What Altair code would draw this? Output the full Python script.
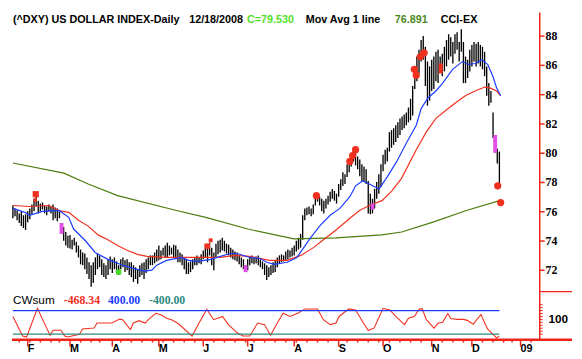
import altair as alt
import pandas as pd

# ---------------- data ----------------
HIGH = [
    76.43, 76.23, 76.09, 75.89, 76.03, 75.76, 75.83, 76.03, 76.23, 76.49,
    76.89, 77.16, 76.76, 76.56, 76.63, 76.43, 76.36, 76.49, 76.36, 76.49,
    76.29, 76.23, 76.03, 75.23, 74.96, 74.62, 74.36, 74.42, 74.09, 74.22,
    73.95, 73.69, 73.42, 73.22, 73.15, 72.88, 72.55, 72.35, 72.55, 72.88,
    73.15, 73.02, 72.75, 72.48, 72.35, 72.75, 72.95, 72.75, 72.88, 72.61,
    72.35, 72.75, 72.88, 72.68, 72.75, 72.55, 72.55, 72.35, 72.21, 72.08,
    72.35, 72.48, 72.55, 72.75, 72.88, 73.02, 73.02, 73.22, 73.42, 73.69,
    73.35, 73.55, 73.69, 73.89, 73.69, 73.55, 73.75, 73.69, 73.42, 73.22,
    73.09, 72.88, 72.75, 72.55, 72.61, 72.75, 72.88, 73.02, 72.88, 73.09,
    73.35, 73.75, 73.55, 73.89, 73.55, 73.22, 73.82, 74.02, 74.09, 74.22,
    74.02, 73.82, 73.75, 73.55, 73.42, 73.29, 73.22, 73.02, 72.88, 72.75,
    72.35, 72.75, 72.88, 73.02, 72.88, 72.95, 73.02, 72.75, 72.61, 72.48,
    72.35, 72.21, 72.35, 72.55, 72.68, 72.88, 73.02, 73.09, 73.02, 73.29,
    73.42, 73.35, 73.55, 73.69, 74.02, 74.22, 74.49, 75.76, 76.23, 76.29,
    76.36, 76.23, 76.49, 77.16, 77.23, 77.03, 76.89, 76.76, 76.89, 77.09,
    77.36, 77.56, 77.43, 77.23, 77.90, 78.23, 78.70, 78.57, 79.24, 79.57,
    79.90, 80.24, 80.04, 79.77, 79.57, 79.24, 79.10, 78.90, 78.10, 77.23,
    76.89, 77.56, 78.03, 78.57, 79.24, 79.90, 80.24, 80.37, 81.44, 81.58,
    81.71, 81.91, 82.11, 82.38, 82.51, 82.65, 82.78, 83.12, 83.72, 84.59,
    85.46, 86.60, 87.06, 87.73, 88.00, 87.27, 86.26, 85.93, 86.39, 86.60,
    86.93, 87.06, 86.60, 86.80, 87.27, 87.73, 88.13, 87.93, 87.60, 88.13,
    88.27, 87.60, 88.47, 87.60, 86.60, 86.39, 87.06, 87.40, 87.60, 87.47,
    87.60, 87.40, 87.27, 86.93, 85.93, 84.79, 84.25, 82.78, 81.24, 80.30,
    80.11,
]
LOW = [
    75.56, 75.69, 75.42, 75.23, 75.02, 74.89, 74.76, 75.29, 75.49, 75.83,
    76.03, 76.36, 75.89, 76.03, 76.16, 75.89, 75.76, 76.03, 75.89, 75.42,
    75.56, 75.36, 75.56, 74.49, 74.02, 73.69, 73.55, 73.49, 73.42, 73.69,
    73.22, 72.88, 72.41, 72.35, 72.08, 71.75, 71.41, 70.88, 71.14, 71.68,
    72.08, 72.21, 71.68, 71.54, 71.41, 71.68, 72.08, 71.81, 72.08, 71.81,
    71.68, 72.08, 72.21, 71.88, 72.01, 71.68, 71.54, 71.21, 71.41, 71.08,
    71.54, 71.68, 71.41, 71.81, 72.08, 72.35, 72.35, 72.48, 72.61, 72.68,
    72.75, 73.02, 72.88, 72.88, 73.02, 73.09, 72.88, 72.75, 72.55, 72.55,
    72.35, 72.08, 71.75, 71.75, 71.88, 72.08, 72.35, 72.35, 72.48, 72.41,
    72.75, 72.88, 72.55, 73.02, 72.35, 72.01, 72.88, 73.09, 73.22, 73.35,
    73.29, 73.15, 73.02, 72.88, 72.75, 72.68, 72.61, 72.41, 72.21, 72.08,
    71.88, 72.01, 72.35, 72.48, 72.41, 72.48, 72.35, 72.21, 72.08, 71.68,
    71.34, 71.54, 71.68, 71.81, 71.88, 72.21, 72.48, 72.55, 72.61, 72.68,
    72.75, 72.88, 72.95, 73.02, 73.29, 73.42, 73.55, 74.09, 75.42, 75.76,
    75.83, 75.69, 75.83, 76.43, 76.69, 76.43, 76.03, 75.89, 76.23, 76.49,
    76.69, 76.89, 76.76, 76.56, 77.03, 77.49, 77.76, 77.90, 78.37, 78.70,
    79.10, 79.44, 79.17, 78.90, 78.43, 78.10, 78.03, 77.90, 75.89, 75.83,
    75.89, 76.23, 76.89, 77.23, 77.70, 78.77, 79.24, 79.44, 80.11, 80.37,
    80.57, 80.77, 81.04, 81.24, 81.58, 81.71, 81.91, 82.11, 82.25, 82.58,
    84.39, 84.92, 85.46, 86.26, 86.39, 84.59, 83.25, 83.59, 84.25, 84.39,
    84.92, 84.79, 85.46, 85.26, 85.59, 85.93, 86.39, 86.60, 86.13, 86.80,
    87.06, 86.26, 86.93, 84.79, 84.79, 85.13, 85.59, 85.93, 86.26, 85.93,
    86.13, 85.93, 85.73, 85.26, 83.92, 83.25, 83.45, 81.04, 80.04, 79.30,
    77.70,
]

BLUE_I = [0, 5.6, 7.9, 13.9, 21.8, 26.4, 28.7, 34.3, 38.9, 44.9, 51.9, 56.5, 62, 65.7, 68,
          72.7, 79.6, 83.3, 87.5, 93.5, 98.1, 102.8, 106, 112, 116.7, 120, 123.6, 129.6,
          134.3, 137.5, 140.7, 145.4, 150, 154.6, 159.3, 162, 165.3, 168.5, 173.1, 176.9,
          181.5, 186.1, 190.7, 193, 196.3, 200, 203.2, 207.9, 212.5, 215.3, 218.5, 221.8,
          224.5, 226.9, 228.7, 230.6]
BLUE_V = [76.23, 75.96, 75.76, 76.03, 76.09, 75.62, 74.82, 74.02, 73.22, 72.75, 72.35, 72.15,
          71.95, 72.01, 72.35, 72.68, 72.88, 72.68, 72.61, 72.75, 72.95, 73.15, 73.15, 72.88,
          72.82, 72.55, 72.41, 72.55, 72.88, 73.55, 74.22, 75.09, 75.76, 76.23, 77.03, 77.77,
          78.10, 77.90, 77.56, 78.37, 79.44, 80.71, 81.91, 83.05, 83.79, 84.25, 84.79, 85.73,
          86.26, 86.06, 86.13, 86.39, 86.06, 85.26, 84.46, 83.92]

RED_I = [0, 7.9, 17.1, 21.8, 26.4, 31, 35.6, 40.3, 44.9, 49.5, 54.2, 58.8, 63.4, 72.7, 81.9,
         91.2, 98.1, 105, 112, 116.7, 121.3, 129.6, 136.1, 142.1, 146.8, 152.8, 159.3, 163.9,
         168.5, 174.5, 179.2, 183.8, 190.7, 195.4, 200, 204.6, 209.3, 213.9, 218.5, 223.1,
         225.5, 228.7, 230.6]
RED_V = [76.43, 76.36, 76.43, 76.09, 75.96, 75.42, 75.02, 74.42, 74.09, 73.69, 73.35, 73.09,
         72.95, 72.88, 72.88, 72.88, 72.88, 73.02, 72.95, 72.82, 72.68, 72.68, 73.02, 73.55,
         74.09, 74.76, 75.56, 76.09, 76.43, 76.76, 77.43, 78.30, 80.24, 81.44, 82.38, 82.92,
         83.45, 83.92, 84.25, 84.52, 84.46, 84.25, 83.92]

GREEN_I = [0, 24.1, 35.6, 49.5, 77.3, 91.2, 111.1, 132.9, 152.8, 174.5, 183.8, 198.6, 214.4, 230.1]
GREEN_V = [79.33, 78.64, 77.90, 77.10, 76.09, 75.62, 74.82, 74.15, 74.22, 74.42, 74.62, 75.29,
           76.09, 76.76]

PINK_I = [23, 110, 170, 228]
PINK_HIGH = [75.23, 72.35, 76.56, 81.24]
PINK_LOW = [74.49, 71.88, 76.16, 80.04]

DOT_I = [143.5, 159.3, 160.6, 162.0, 189.8, 190.7, 192.6, 194.4, 229.2, 230.6]
DOT_V = [77.10, 79.44, 79.84, 80.24, 85.73, 85.33, 86.60, 86.86, 77.77, 76.63]

SQ_I = [10.8, 10.6, 91.9, 93.5]
SQ_V = [77.20, 76.80, 73.65, 74.05]
SQ_SIZE = [40, 12, 32, 16]

REDBAR_I = [202.3]
REDBAR_HIGH = [86.13]
REDBAR_LOW = [85.46]

GREENSQ_I = [50]
GREENSQ_V = [71.88]

OSC_I = [0, 4.6, 6.5, 11.6, 17.6, 19, 22.7, 24.5, 25.9, 31.5, 32.9, 38.4, 39.8, 46.8, 50.5,
         51.9, 53.7, 55.6, 56.9, 59.7, 62.5, 64.8, 67.6, 69.9, 72.7, 75, 77.8, 79.6, 84.7, 88,
         91.7, 94.9, 99.1, 101.9, 106, 108.8, 112, 115.7, 119, 121.8, 125, 127.8, 131, 134.7,
         138, 144, 146.8, 150, 152.8, 154.2, 158.8, 162, 164.8, 168, 170.8, 175, 178.2, 181,
         185.2, 187, 189.8, 192.1, 193.5, 195.4, 199.1, 200.9, 203.2, 205.6, 207, 210.2, 213,
         214.8, 217.6, 219.4, 221.3, 223.1, 224.5, 226.9, 228.7, 230]
OSC_V = [200, -467, -500, 477, -443, -267, -267, -467, -500, -410, -223, -190, -23, -23, 110,
         90, -77, -243, -23, 57, -23, 143, 310, 257, 143, 90, -23, -133, -467, -23,
         443, 90, 200, -77, -357, -467, -467, -23, -77, -443, -23, 310, 200, 310,
         457, 457, 90, -77, -23, 200, 457, 423, 90, -277, -190, 477, 423, 200,
         -77, 143, 200, 457, 467, 100, -200, -33, 0, 300, 133, 100, 100,
         67, -67, 100, 267, -33, -233, -400, -533, -468.34]

BAND_I = [0, 230]
UPPER = 400
LOWER = -400

MONTH_I = [7, 27, 47, 69, 90, 111, 133, 154, 175, 198, 217, 240]
MONTH_LABELS = ["F", "M", "A", "M", "J", "J", "A", "S", "O", "N", "D", "09"]
WEEK_I = [3, 8, 13, 18, 22, 32, 37, 41, 51, 56, 61, 66, 71, 76, 81, 86, 95, 100, 105,
          110, 114, 119, 124, 129, 134, 139, 144, 149, 158, 163, 168, 173, 178, 183, 188,
          193, 203, 208, 213, 222, 227, 232, 236, 245]

PRICE_TICKS = [72, 74, 76, 78, 80, 82, 84, 86, 88]
OSC_TICKS = [-400, -300, -200, -100, 0, 100, 200, 300, 400, 500, 600]
OSC_LABEL = [100]

# ---------------- styling ----------------
AXRED = "#f02418"
RED = "#f0301e"
BLUE = "#1c3cff"
GREEN = "#4a7d0c"
TEAL = "#2a8a80"
PINK = "#e050e6"

W = 539
XS = alt.Scale(domain=[-0.46, 249.07], nice=False, zero=False)
YS = alt.Scale(domain=[70.54, 89.605], nice=False, zero=False)
OS = alt.Scale(domain=[-590, 1043], nice=False, zero=False)

xq = alt.X("i:Q", scale=XS, axis=None)


def yq(field):
    return alt.Y(field, type="quantitative", scale=YS, axis=None)


def oq(field):
    return alt.Y(field, type="quantitative", scale=OS, axis=None)


bars = pd.DataFrame({"i": list(range(len(HIGH))), "high": HIGH, "low": LOW})
bar_layer = alt.Chart(bars).mark_rule(color="black", strokeWidth=1.35).encode(
    x=xq, y=yq("low"), y2="high:Q"
)


def ma_line(idx, vals, color):
    df = pd.DataFrame({"i": idx, "v": vals})
    return alt.Chart(df).mark_line(color=color, strokeWidth=1.2).encode(x=xq, y=yq("v"))


green_l = ma_line(GREEN_I, GREEN_V, GREEN)
red_l = ma_line(RED_I, RED_V, RED)
blue_l = ma_line(BLUE_I, BLUE_V, BLUE)

pink = alt.Chart(pd.DataFrame({"i": PINK_I, "h": PINK_HIGH, "l": PINK_LOW})).mark_rule(
    color=PINK, strokeWidth=4
).encode(x=xq, y=yq("l"), y2="h:Q")

redbar = alt.Chart(pd.DataFrame({"i": REDBAR_I, "h": REDBAR_HIGH, "l": REDBAR_LOW})).mark_rule(
    color=RED, strokeWidth=4
).encode(x=xq, y=yq("l"), y2="h:Q")

dots = alt.Chart(pd.DataFrame({"i": DOT_I, "v": DOT_V})).mark_point(
    shape="circle", filled=True, size=55, color=RED, opacity=1
).encode(x=xq, y=yq("v"))

squares = alt.Chart(pd.DataFrame({"i": SQ_I, "v": SQ_V, "s": SQ_SIZE})).mark_square(
    color=RED, opacity=1
).encode(x=xq, y=yq("v"), size=alt.Size("s:Q", scale=None, legend=None))

greensq = alt.Chart(pd.DataFrame({"i": GREENSQ_I, "v": GREENSQ_V})).mark_square(
    color="#44dd22", size=28, opacity=1
).encode(x=xq, y=yq("v"))


def label(text, x, y, color="black", font="Liberation Sans", size=11, weight="bold"):
    return alt.Chart(pd.DataFrame({"t": [text]})).mark_text(
        align="left", baseline="middle", font=font, fontSize=size, fontWeight=weight,
        color=color,
    ).encode(x=alt.value(x), y=alt.value(y), text="t:N")


def hline(x1, x2, y, color=AXRED, w=1.2):
    return alt.Chart(pd.DataFrame({"a": [0]})).mark_rule(color=color, strokeWidth=w).encode(
        x=alt.value(x1), x2=alt.value(x2), y=alt.value(y))


def vline(x, y1, y2, color=AXRED, w=1.5):
    return alt.Chart(pd.DataFrame({"a": [0]})).mark_rule(color=color, strokeWidth=w).encode(
        x=alt.value(x), y=alt.value(y1), y2=alt.value(y2))


# manual right price axis
pt = pd.DataFrame({"v": PRICE_TICKS, "t": [str(v) for v in PRICE_TICKS]})
p_ticks = alt.Chart(pt).mark_rule(color=AXRED, strokeWidth=1.5).encode(
    x=alt.value(W), x2=alt.value(W + 5), y=yq("v"))
p_labels = alt.Chart(pt).mark_text(
    align="left", baseline="middle", font="Liberation Serif", fontSize=12,
    fontWeight="bold", color="black"
).encode(x=alt.value(W + 6), y=yq("v"), text="t:N")
p_domain = vline(W, 0, 285)

header = [
    label("(^DXY) US DOLLAR INDEX-Daily", 1, 8),
    label("12/18/2008", 181, 8),
    label("C=79.530", 240, 8, color="#55e02a"),
    label("Mov Avg 1 line", 300, 8),
    label("76.891", 391, 8, color="#4a8a1e"),
    label("CCI-EX", 438, 8),
]

main = alt.layer(
    bar_layer, green_l, red_l, blue_l, pink, redbar, dots, squares, greensq,
    p_domain, p_ticks, p_labels, *header
).properties(width=W, height=285)

# ---------------- lower panel ----------------
osc = alt.Chart(pd.DataFrame({"i": OSC_I, "v": OSC_V})).mark_line(
    color=RED, strokeWidth=1.1
).encode(x=xq, y=oq("v"))

upper = alt.Chart(pd.DataFrame({"i": BAND_I, "v": [UPPER, UPPER]})).mark_line(
    color=BLUE, strokeWidth=1.2
).encode(x=xq, y=oq("v"))
lower = alt.Chart(pd.DataFrame({"i": BAND_I, "v": [LOWER, LOWER]})).mark_line(
    color=TEAL, strokeWidth=1.4
).encode(x=xq, y=oq("v"))

major_ticks = alt.Chart(pd.DataFrame({"i": MONTH_I})).mark_rule(
    color=AXRED, strokeWidth=1.5
).encode(x=xq, y=alt.value(49), y2=alt.value(56))
minor_ticks = alt.Chart(pd.DataFrame({"i": WEEK_I})).mark_rule(
    color=AXRED, strokeWidth=1.5
).encode(x=xq, y=alt.value(49), y2=alt.value(52))
month_labels = alt.Chart(pd.DataFrame({"i": MONTH_I, "t": MONTH_LABELS})).mark_text(
    align="left", baseline="top", font="Liberation Sans", fontSize=11, fontWeight="bold",
    color="black", dx=0
).encode(x=xq, y=alt.value(53), text="t:N")

ot = pd.DataFrame({"v": OSC_TICKS})
o_ticks = alt.Chart(ot).mark_rule(color=AXRED, strokeWidth=1).encode(
    x=alt.value(W), x2=alt.value(W + 3), y=oq("v"))
ol = pd.DataFrame({"v": OSC_LABEL, "t": [str(v) for v in OSC_LABEL]})
o_labels = alt.Chart(ol).mark_text(
    align="left", baseline="middle", font="Liberation Sans", fontSize=12,
    fontWeight="bold", color="black"
).encode(x=alt.value(W + 9), y=oq("v"), text="t:N")
o_domain = vline(W, 0, 49)

base_line = hline(0, 572, 49, w=2.5)
sep_line = hline(W, 572, 0, w=1.2)

cw = [
    label("CWsum", 1, 9, size=12, weight="normal"),
    label("-468.34", 53, 9, color=RED, font="Liberation Serif", size=12),
    label("400.00", 98, 9, color=BLUE, font="Liberation Serif", size=12),
    label("-400.00", 140, 9, color=TEAL, font="Liberation Serif", size=12),
]

lower_chart = alt.layer(
    osc, upper, lower, major_ticks, minor_ticks, month_labels, o_domain, o_ticks,
    o_labels, base_line, sep_line, *cw
).properties(width=W, height=49)

chart = alt.vconcat(main, lower_chart, spacing=0, bounds="flush").resolve_scale(
    x="independent", y="independent"
).properties(
    padding={"left": 2, "top": 0, "right": 0, "bottom": 0}
).configure_view(stroke=None)

chart.save("out.html", embed_options={"renderer": "svg", "actions": False})
